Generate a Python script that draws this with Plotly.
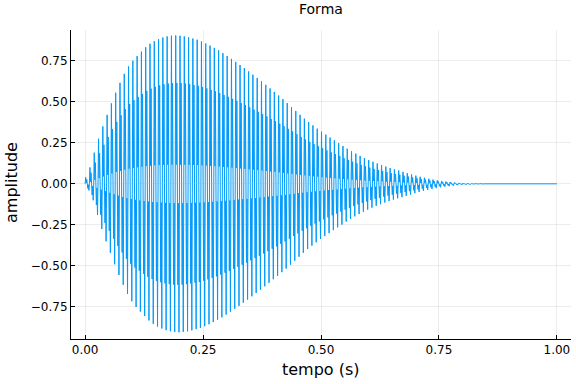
import plotly.graph_objects as go

# ---- data ----
freq_hz = 110  # stroke spacing ~4.27 px -> ~110 cycles per second
# peak amplitude of each cycle (cycle k starts at k / freq_hz seconds)
cycle_amplitude = [
    0.040, 0.100, 0.190, 0.275, 0.350, 0.420, 0.490, 0.555, 0.615, 0.670,
    0.715, 0.750, 0.778, 0.805, 0.832, 0.853, 0.869, 0.881, 0.891, 0.898,
    0.902, 0.904, 0.902, 0.898, 0.892, 0.885, 0.878, 0.867, 0.855, 0.842,
    0.828, 0.813, 0.796, 0.779, 0.761, 0.743, 0.724, 0.705, 0.685, 0.665,
    0.645, 0.624, 0.603, 0.581, 0.560, 0.538, 0.516, 0.492, 0.468, 0.444,
    0.420, 0.397, 0.376, 0.356, 0.336, 0.318, 0.300, 0.282, 0.265, 0.248,
    0.230, 0.214, 0.198, 0.184, 0.170, 0.157, 0.145, 0.134, 0.124, 0.114,
    0.105, 0.096, 0.088, 0.081, 0.073, 0.065, 0.057, 0.050, 0.043, 0.037,
    0.031, 0.026, 0.021, 0.017, 0.014, 0.011, 0.008, 0.006, 0.005, 0.004,
    0.003, 0.002, 0.001, 0.000, 0.000, 0.000, 0.000, 0.000, 0.000, 0.000,
    0.000, 0.000, 0.000, 0.000, 0.000, 0.000, 0.000, 0.000, 0.000, 0.000,
]
# shape of one cycle: phase (fraction of the period) and relative level
cycle_phase = [0.0, 0.12, 0.25, 0.38, 0.50, 0.62, 0.75, 0.88]
cycle_shape = [0.0, 1.00, 0.13, 0.68, 0.00, -0.68, -0.13, -1.00]
t_end = 1.0

x_ticks = [0.0, 0.25, 0.5, 0.75, 1.0]
x_tick_labels = ["0.00", "0.25", "0.50", "0.75", "1.00"]
y_ticks = [-0.75, -0.5, -0.25, 0.0, 0.25, 0.5, 0.75]
y_tick_labels = ["\u22120.75", "\u22120.50", "\u22120.25", "0.00", "0.25", "0.50", "0.75"]

# ---- build the trace ----
t = []
y = []
for k, amp in enumerate(cycle_amplitude):
    for ph, lev in zip(cycle_phase, cycle_shape):
        t.append((k + ph) / freq_hz)
        y.append(amp * lev)
t.append(t_end)
y.append(0.0)

fig = go.Figure()
fig.add_trace(go.Scatter(x=t, y=y, mode="lines",
                         line=dict(color="#009AFA", width=1),
                         showlegend=False, hoverinfo="skip"))

font = "DejaVu Sans, Arial, sans-serif"
axis_common = dict(
    showline=True, linecolor="black", linewidth=1, mirror=False,
    ticks="inside", ticklen=4, tickcolor="black", tickwidth=1,
    showgrid=True, gridcolor="rgba(0,0,0,0.07)", gridwidth=1,
    zeroline=False, automargin=False,
    tickfont=dict(family=font, size=12, color="black"),
)
fig.update_layout(
    width=576, height=384,
    margin=dict(l=71, r=5, t=30, b=45),
    paper_bgcolor="white", plot_bgcolor="white",
    xaxis=dict(range=[-0.03, 1.03], tickvals=x_ticks, ticktext=x_tick_labels,
               **axis_common),
    yaxis=dict(range=[-0.945, 0.937], tickvals=y_ticks, ticktext=y_tick_labels,
               **axis_common),
    annotations=[
        dict(text="Forma", x=0.5, y=1.068, xref="paper", yref="paper",
             xanchor="center", yanchor="middle", showarrow=False,
             font=dict(family=font, size=14, color="black")),
        dict(text="tempo (s)", x=0.5, y=-0.100, xref="paper", yref="paper",
             xanchor="center", yanchor="middle", showarrow=False,
             font=dict(family=font, size=16, color="black")),
        dict(text="amplitude", x=-0.118, y=0.505, xref="paper", yref="paper",
             xanchor="center", yanchor="middle", showarrow=False, textangle=-90,
             font=dict(family=font, size=16, color="black")),
    ],
)
# remove the browser's default 8 px page margin so the figure sits at (0, 0)
fig.write_html("out.html",
               config={"displayModeBar": False},
               post_script="document.body.style.margin='0';"
                           "document.body.style.padding='0';")
